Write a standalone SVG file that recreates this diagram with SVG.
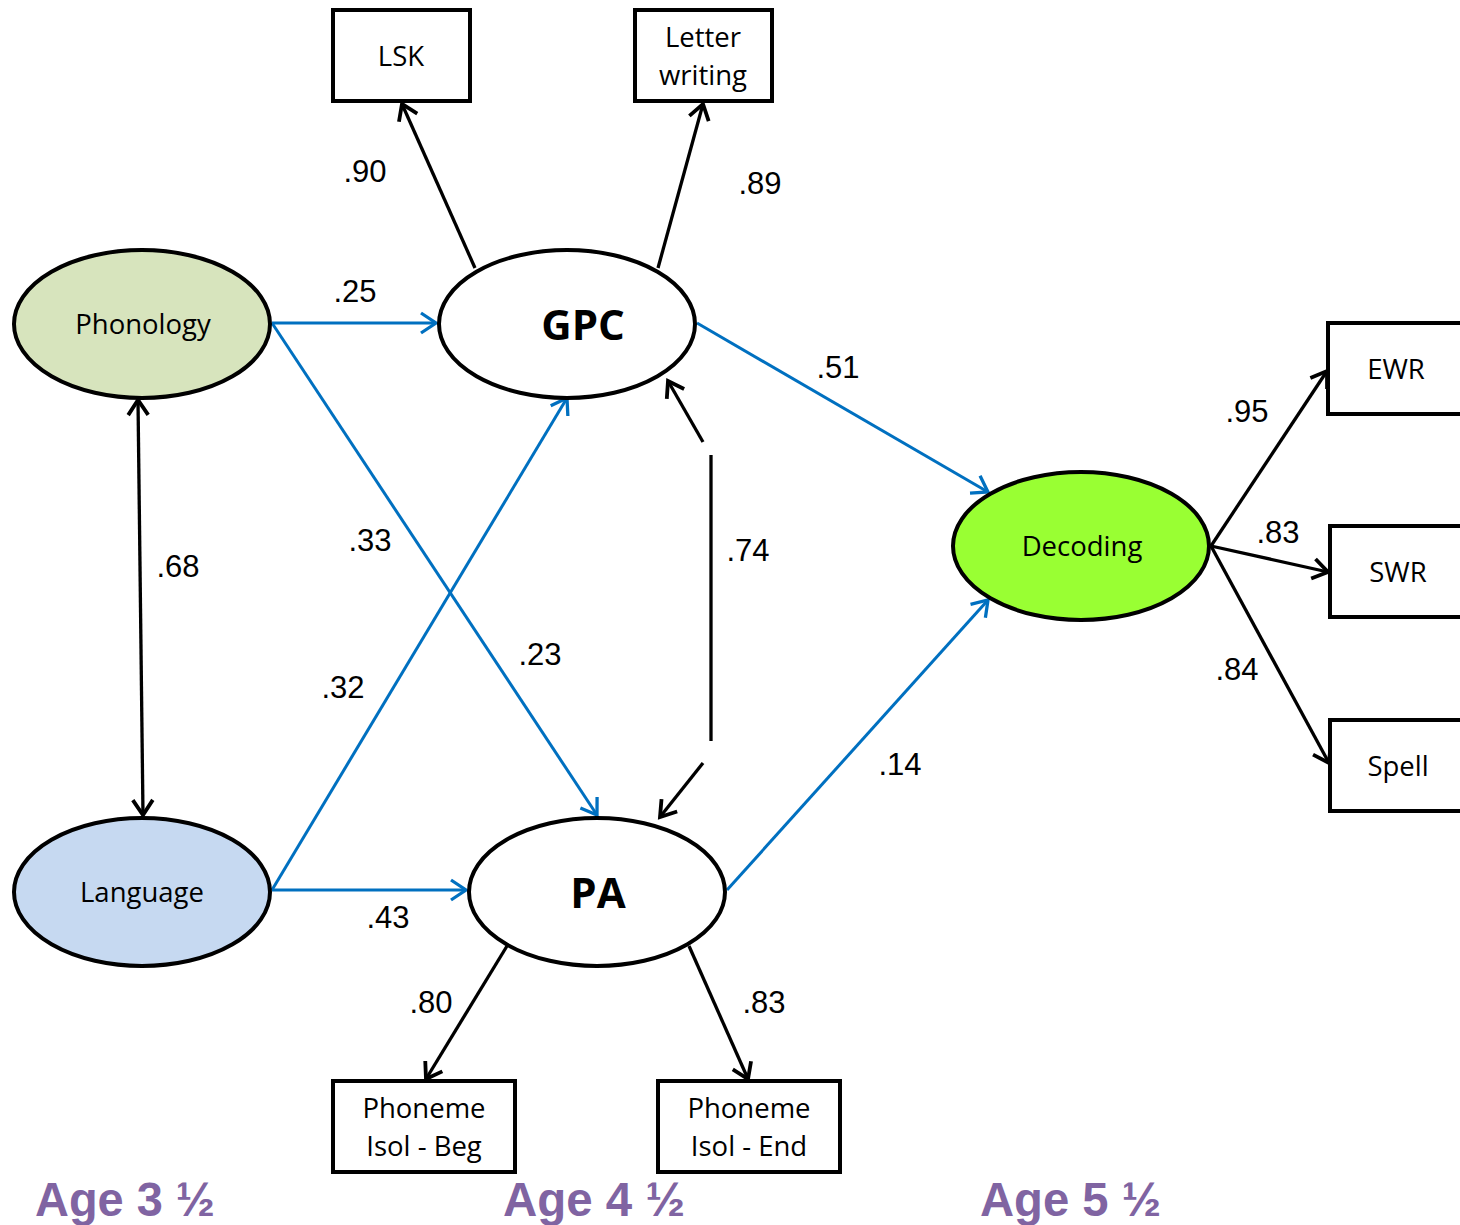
<svg xmlns="http://www.w3.org/2000/svg" width="1460" height="1225" viewBox="0 0 1460 1225">
  <style>
    .node-shape { stroke: #000; stroke-width: 4; }
    .box { fill: #fff; stroke: #000; stroke-width: 4; }
    .lbl { font-family: "Open Sans", "Noto Sans", sans-serif; font-size: 27.5px; fill: #000; text-anchor: middle; }
    .big { font-family: "Open Sans", "Noto Sans", sans-serif; font-size: 42px; font-weight: bold; fill: #000; text-anchor: middle; }
    .coef { font-family: "Liberation Sans", Arial, sans-serif; font-size: 31px; fill: #000; text-anchor: middle; }
    .age { font-family: "Liberation Sans", Arial, sans-serif; font-size: 48px; font-weight: bold; fill: #8064A2; }
    .blk { stroke: #000; stroke-width: 3.3; fill: none; }
    .blu { stroke: #0070C0; stroke-width: 3; fill: none; }
  </style>
  <defs>
    <marker id="ah-black" markerUnits="userSpaceOnUse" viewBox="-20 -12 24 24" refX="0" refY="0" markerWidth="24" markerHeight="24" orient="auto-start-reverse">
      <path d="M-15,-10 L0,0 L-15,10" fill="none" stroke="#000" stroke-width="3.8"/>
    </marker>
    <marker id="ah-blue" markerUnits="userSpaceOnUse" viewBox="-20 -12 24 24" refX="0" refY="0" markerWidth="24" markerHeight="24" orient="auto">
      <path d="M-15,-10 L0,0 L-15,10" fill="none" stroke="#0070C0" stroke-width="3.3"/>
    </marker>
  </defs>

  <rect width="1460" height="1225" fill="#fff"/>

  <g id="connectors">
    <!-- loadings of GPC -->
    <line class="blk" x1="475" y1="268" x2="402" y2="104" marker-end="url(#ah-black)"/>
    <line class="blk" x1="658" y1="268" x2="703" y2="104" marker-end="url(#ah-black)"/>
    <!-- regression paths -->
    <line class="blu" x1="272" y1="323" x2="436" y2="323" marker-end="url(#ah-blue)"/>
    <line class="blu" x1="272" y1="323" x2="597" y2="815" marker-end="url(#ah-blue)"/>
    <line class="blu" x1="272" y1="890" x2="567" y2="398" marker-end="url(#ah-blue)"/>
    <line class="blu" x1="272" y1="890" x2="466" y2="890" marker-end="url(#ah-blue)"/>
    <line class="blu" x1="697" y1="323" x2="988" y2="492" marker-end="url(#ah-blue)"/>
    <line class="blu" x1="727" y1="890" x2="988" y2="600" marker-end="url(#ah-blue)"/>
    <!-- correlation Phonology / Language -->
    <line class="blk" x1="138" y1="400" x2="143" y2="815" marker-start="url(#ah-black)" marker-end="url(#ah-black)"/>
    <!-- correlation GPC / PA (broken line) -->
    <line class="blk" x1="703" y1="442" x2="668" y2="381" marker-end="url(#ah-black)"/>
    <line class="blk" x1="711" y1="455" x2="711" y2="741"/>
    <line class="blk" x1="703" y1="763" x2="660" y2="817" marker-end="url(#ah-black)"/>
    <!-- loadings of Decoding -->
    <line class="blk" x1="1211" y1="546" x2="1327" y2="371" marker-end="url(#ah-black)"/>
    <line class="blk" x1="1211" y1="546" x2="1328" y2="572" marker-end="url(#ah-black)"/>
    <line class="blk" x1="1211" y1="546" x2="1329" y2="763" marker-end="url(#ah-black)"/>
    <!-- loadings of PA -->
    <line class="blk" x1="507" y1="946" x2="426" y2="1079" marker-end="url(#ah-black)"/>
    <line class="blk" x1="689" y1="946" x2="748" y2="1079" marker-end="url(#ah-black)"/>
  </g>

  <g id="coefficients">
    <text class="coef" x="365" y="182">.90</text>
    <text class="coef" x="760" y="194">.89</text>
    <text class="coef" x="355" y="302">.25</text>
    <text class="coef" x="838" y="378">.51</text>
    <text class="coef" x="370" y="551">.33</text>
    <text class="coef" x="748" y="561">.74</text>
    <text class="coef" x="178" y="577">.68</text>
    <text class="coef" x="540" y="665">.23</text>
    <text class="coef" x="343" y="698">.32</text>
    <text class="coef" x="900" y="775">.14</text>
    <text class="coef" x="388" y="928">.43</text>
    <text class="coef" x="431" y="1013">.80</text>
    <text class="coef" x="764" y="1013">.83</text>
    <text class="coef" x="1247" y="422">.95</text>
    <text class="coef" x="1278" y="543">.83</text>
    <text class="coef" x="1237" y="680">.84</text>
  </g>

  <g id="phonology">
    <ellipse class="node-shape" cx="142" cy="324" rx="128" ry="74" fill="#D7E4BD"/>
    <text class="lbl" x="143" y="334">Phonology</text>
  </g>
  <g id="language">
    <ellipse class="node-shape" cx="142" cy="892" rx="128" ry="74" fill="#C6D9F1"/>
    <text class="lbl" x="142" y="902">Language</text>
  </g>
  <g id="gpc">
    <ellipse class="node-shape" cx="567" cy="324" rx="128" ry="74" fill="#fff"/>
    <text class="big" x="583" y="340">GPC</text>
  </g>
  <g id="pa">
    <ellipse class="node-shape" cx="597" cy="892" rx="128" ry="74" fill="#fff"/>
    <text class="big" x="598" y="908">PA</text>
  </g>
  <g id="decoding">
    <ellipse class="node-shape" cx="1081" cy="546" rx="128" ry="74" fill="#99FF33"/>
    <text class="lbl" x="1082" y="556">Decoding</text>
  </g>

  <g id="lsk">
    <rect class="box" x="333" y="10" width="137" height="91"/>
    <text class="lbl" x="401" y="66">LSK</text>
  </g>
  <g id="letter-writing">
    <rect class="box" x="635" y="10" width="137" height="91"/>
    <text class="lbl" x="703" y="47">Letter</text>
    <text class="lbl" x="703" y="85">writing</text>
  </g>
  <g id="ewr">
    <rect class="box" x="1328" y="323" width="140" height="91"/>
    <text class="lbl" x="1396" y="379">EWR</text>
  </g>
  <g id="swr">
    <rect class="box" x="1330" y="526" width="140" height="91"/>
    <text class="lbl" x="1398" y="582">SWR</text>
  </g>
  <g id="spell">
    <rect class="box" x="1330" y="720" width="140" height="91"/>
    <text class="lbl" x="1398" y="776">Spell</text>
  </g>
  <g id="phoneme-beg">
    <rect class="box" x="333" y="1081" width="182" height="91"/>
    <text class="lbl" x="424" y="1118">Phoneme</text>
    <text class="lbl" x="424" y="1156">Isol - Beg</text>
  </g>
  <g id="phoneme-end">
    <rect class="box" x="658" y="1081" width="182" height="91"/>
    <text class="lbl" x="749" y="1118">Phoneme</text>
    <text class="lbl" x="749" y="1156">Isol - End</text>
  </g>

  <g id="age-labels">
    <text class="age" x="35" y="1216" textLength="180" lengthAdjust="spacingAndGlyphs">Age 3 ½</text>
    <text class="age" x="503" y="1216" textLength="182" lengthAdjust="spacingAndGlyphs">Age 4 ½</text>
    <text class="age" x="980" y="1216" textLength="181" lengthAdjust="spacingAndGlyphs">Age 5 ½</text>
  </g>
</svg>
